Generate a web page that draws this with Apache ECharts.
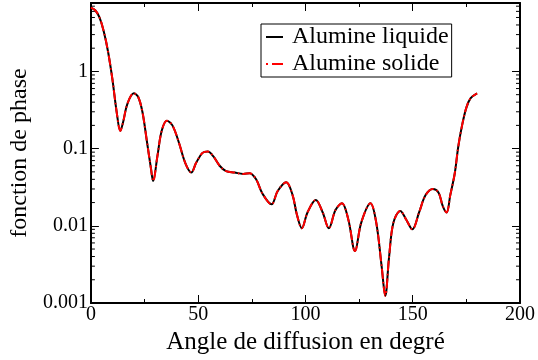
<!DOCTYPE html>
<html>
<head>
<meta charset="utf-8">
<script src="https://cdn.jsdelivr.net/npm/echarts@6/dist/echarts.min.js"></script>
<style>
  html, body { margin: 0; padding: 0; background: #fff; }
  #chart { width: 538px; height: 360px; }
</style>
</head>
<body>
<div id="chart"></div>
<script>
// Scattering angle (degrees)
const angles = [0, 2, 4, 6, 8, 10, 12, 13.7, 15, 17, 20, 22, 24, 26, 28, 29, 31, 33, 35.4, 38, 41, 44, 46.8,
  49, 52, 54.5, 57, 60, 63, 67, 71, 74, 77, 80, 84.2, 87, 91, 94, 96, 98.3, 101, 104.8, 108, 110.9,
  114, 117, 120, 123.1, 126, 130.3, 133, 135.5, 137.2, 139, 141, 144.2, 147, 149.8, 153, 156, 159.4,
  162, 164, 165.8, 167.5, 169.6, 171.2, 173, 175, 177, 180];

// Phase function, liquid alumina
const liquide = [6.7, 6.2, 5.0, 3.3, 1.8, 0.8, 0.3, 0.17, 0.22, 0.38, 0.52, 0.47, 0.3, 0.13, 0.055, 0.038, 0.08, 0.17, 0.23, 0.2, 0.12, 0.065, 0.049,
  0.065, 0.088, 0.092, 0.08, 0.06, 0.051, 0.049, 0.047, 0.048, 0.04, 0.026, 0.019, 0.028, 0.0366, 0.025, 0.014, 0.0093, 0.015, 0.0216, 0.015, 0.0093,
  0.016, 0.0196, 0.012, 0.0047, 0.011, 0.0196, 0.011, 0.003, 0.00124, 0.004, 0.011, 0.0156, 0.012, 0.009, 0.015, 0.025, 0.030,
  0.027, 0.018, 0.0149, 0.025, 0.048, 0.105, 0.2, 0.34, 0.45, 0.52];

// Phase function, solid alumina
const solide = [6.7, 6.2, 5.0, 3.3, 1.8, 0.8, 0.3, 0.17, 0.22, 0.38, 0.52, 0.47, 0.3, 0.13, 0.055, 0.038, 0.08, 0.17, 0.23, 0.2, 0.12, 0.065, 0.049,
  0.065, 0.088, 0.092, 0.08, 0.06, 0.051, 0.049, 0.047, 0.048, 0.04, 0.026, 0.019, 0.028, 0.0366, 0.025, 0.014, 0.0093, 0.015, 0.0216, 0.015, 0.0093,
  0.016, 0.0196, 0.012, 0.0047, 0.011, 0.0196, 0.011, 0.003, 0.00124, 0.004, 0.011, 0.0156, 0.012, 0.009, 0.015, 0.025, 0.030,
  0.027, 0.018, 0.0149, 0.025, 0.048, 0.105, 0.2, 0.34, 0.45, 0.52];

const seriesNames = ['Alumine liquide', 'Alumine solide'];

// Minor tick positions on the logarithmic axis (2..9 per decade)
const logMinorTicks = [
  0.002, 0.003, 0.004, 0.005, 0.006, 0.007, 0.008, 0.009,
  0.02, 0.03, 0.04, 0.05, 0.06, 0.07, 0.08, 0.09,
  0.2, 0.3, 0.4, 0.5, 0.6, 0.7, 0.8, 0.9,
  2, 3, 4, 5, 6, 7
];

const FONT = 'Liberation Serif';
const Y_MIN = 0.001, Y_MAX = 7.7;

const pairs = (xs, ys) => xs.map((x, i) => [x, ys[i]]);

const isDecade = v => Math.abs(Math.log10(v) - Math.round(Math.log10(v))) < 1e-6;
const fmtDecade = v => {
  if (!isDecade(v)) return '';
  const e = Math.round(Math.log10(v));
  return e >= 0 ? String(Math.pow(10, e)) : (Math.pow(10, e)).toFixed(-e);
};

const chart = echarts.init(document.getElementById('chart'), null, { renderer: 'canvas' });

const tickStyle = { color: '#000', width: 1 };
const frameLine = { onZero: false, lineStyle: { color: '#000', width: 2 } };

chart.setOption({
  animation: false,
  backgroundColor: '#fff',
  textStyle: { fontFamily: FONT },
  grid: { left: 86, right: 15, top: 3, bottom: 51 },
  legend: {
    left: 261, top: 24,
    orient: 'vertical',
    data: [
      { name: seriesNames[0], icon: 'path://M0 0H17V2H0Z', itemStyle: { color: '#000' } },
      { name: seriesNames[1], icon: 'path://M0 0H2V2H0Z M6 0H17V2H6Z', itemStyle: { color: '#ff0000' } }
    ],
    itemWidth: 17, itemHeight: 2, itemGap: 3,
    padding: [1, 3, 1, 5],
    borderColor: '#000', borderWidth: 1,
    backgroundColor: '#fff',
    textStyle: { fontFamily: FONT, fontSize: 24, color: '#000', padding: [0, 0, 0, 4] }
  },
  xAxis: [
    {
      type: 'value', min: 0, max: 200, interval: 50,
      name: 'Angle de diffusion en degré', nameLocation: 'middle', nameGap: 27,
      nameTextStyle: { fontFamily: FONT, fontSize: 25, color: '#000' },
      axisLine: frameLine,
      axisTick: { inside: true, length: 8, lineStyle: tickStyle },
      minorTick: { show: true, splitNumber: 2, length: 4, lineStyle: tickStyle },
      axisLabel: { fontFamily: FONT, fontSize: 20, color: '#000', margin: 2 },
      splitLine: { show: false }
    },
    {
      type: 'value', min: 0, max: 200, interval: 50, position: 'top',
      axisLine: frameLine,
      axisTick: { inside: true, length: 8, lineStyle: tickStyle },
      minorTick: { show: true, splitNumber: 2, length: 4, lineStyle: tickStyle },
      axisLabel: { show: false },
      splitLine: { show: false }
    }
  ],
  yAxis: [
    {
      type: 'log', logBase: 10, min: Y_MIN, max: Y_MAX, position: 'left',
      name: 'fonction de phase', nameLocation: 'middle', nameGap: 58,
      nameTextStyle: { fontFamily: FONT, fontSize: 24, color: '#000' },
      axisLine: frameLine,
      axisTick: { inside: true, length: 8, lineStyle: tickStyle },
      axisLabel: { fontFamily: FONT, fontSize: 20, color: '#000', margin: 3, formatter: fmtDecade, showMaxLabel: false },
      splitLine: { show: false }
    },
    {
      type: 'log', logBase: 10, min: Y_MIN, max: Y_MAX, position: 'right',
      axisLine: frameLine,
      axisTick: { inside: true, length: 8, lineStyle: tickStyle },
      axisLabel: { show: false },
      splitLine: { show: false }
    }
  ],
  series: [
    {
      // minor ticks at 2..9 of each decade, on both vertical sides
      type: 'custom',
      xAxisIndex: 0, yAxisIndex: 0,
      data: logMinorTicks.map(v => [0, v]),
      silent: true,
      legendHoverLink: false,
      renderItem: (params, api) => {
        const cs = params.coordSys;
        const y = api.coord([0, api.value(1)])[1];
        return {
          type: 'group',
          children: [
            { type: 'line', shape: { x1: cs.x, y1: y, x2: cs.x + 4, y2: y }, style: { stroke: '#000', lineWidth: 1 } },
            { type: 'line', shape: { x1: cs.x + cs.width, y1: y, x2: cs.x + cs.width - 4, y2: y }, style: { stroke: '#000', lineWidth: 1 } }
          ]
        };
      },
      z: 1
    },
    {
      name: seriesNames[0],
      type: 'line',
      data: pairs(angles, liquide),
      showSymbol: false, symbol: 'none',
      smooth: 0.35,
      lineStyle: { color: '#000', width: 2 },
      itemStyle: { color: '#000' },
      z: 3
    },
    {
      name: seriesNames[1],
      type: 'line',
      data: pairs(angles, solide),
      showSymbol: false, symbol: 'none',
      smooth: 0.35,
      lineStyle: { color: '#ff0000', width: 2, type: [10, 3, 1.5, 3] },
      itemStyle: { color: '#ff0000' },
      z: 4
    }
  ]
});
</script>
</body>
</html>
